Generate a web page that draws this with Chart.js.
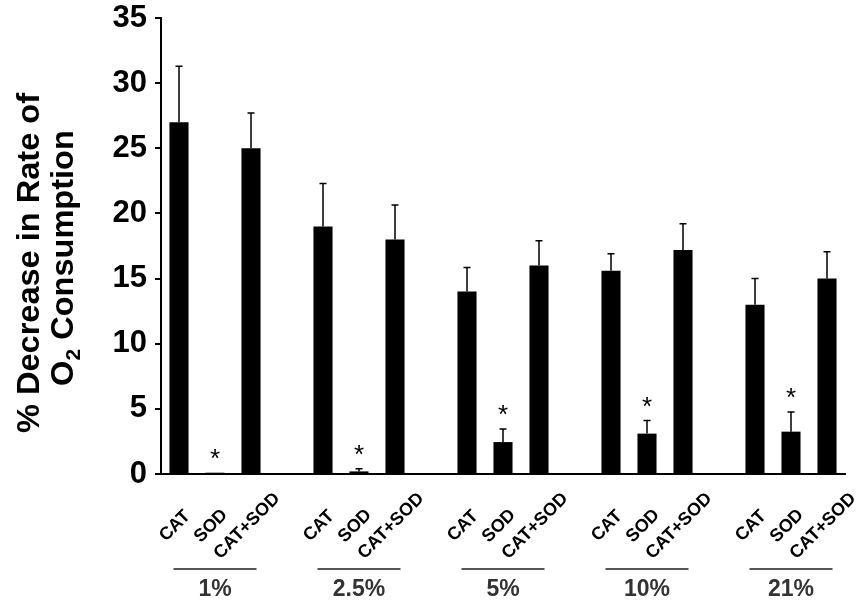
<!DOCTYPE html>
<html>
<head>
<meta charset="utf-8">
<script src="https://cdn.jsdelivr.net/npm/chart.js@4.4.0/dist/chart.umd.min.js"></script>
<style>
  html, body { margin: 0; padding: 0; background: #fff; }
</style>
</head>
<body>
<canvas id="chart" width="865" height="606"></canvas>
<script>
// data
const treatments = ['CAT', 'SOD', 'CAT+SOD'];
const oxygenLevels = ['1%', '2.5%', '5%', '10%', '21%'];
const catMean = [27, 19, 14, 15.6, 13];
const sodMean = [0.1, 0.2, 2.45, 3.1, 3.25];
const catSodMean = [25, 18, 16, 17.2, 15];
const catErr = [4.3, 3.3, 1.85, 1.3, 2.0];
const sodErr = [0, 0.2, 1.0, 1.0, 1.5];
const catSodErr = [2.7, 2.65, 1.9, 2.0, 2.05];
const sodStar = [true, true, true, true, true];
const yTicks = [0, 5, 10, 15, 20, 25, 30, 35];

const FONT = "'Liberation Sans', Arial, Helvetica, sans-serif";

// flatten groups into one category axis, with an empty slot between groups
const labels = [];
const values = [];
const errors = [];
const stars = [];
oxygenLevels.forEach((lvl, g) => {
  const m = [catMean[g], sodMean[g], catSodMean[g]];
  const e = [catErr[g], sodErr[g], catSodErr[g]];
  const s = [false, sodStar[g], false];
  treatments.forEach((t, k) => {
    labels.push(t);
    values.push(m[k]);
    errors.push(e[k]);
    stars.push(s[k]);
  });
  if (g < oxygenLevels.length - 1) {
    labels.push('');
    values.push(null);
    errors.push(null);
    stars.push(false);
  }
});

const errorBars = {
  id: 'errorBars',
  afterDatasetsDraw(chart) {
    const { ctx } = chart;
    const y = chart.scales.y;
    const meta = chart.getDatasetMeta(0);
    ctx.save();
    meta.data.forEach((bar, i) => {
      const v = values[i];
      if (v === null) return;
      const err = errors[i] || 0;
      const top = y.getPixelForValue(v + err);
      if (err > 0) {
        ctx.strokeStyle = '#000';
        ctx.lineWidth = 1.5;
        ctx.beginPath();
        ctx.moveTo(bar.x, bar.y);
        ctx.lineTo(bar.x, top);
        ctx.moveTo(bar.x - 3.5, top);
        ctx.lineTo(bar.x + 3.5, top);
        ctx.stroke();
      }
      if (stars[i]) {
        ctx.fillStyle = '#000';
        ctx.font = '26px ' + FONT;
        ctx.textAlign = 'center';
        ctx.textBaseline = 'middle';
        ctx.fillText('*', bar.x, top - 13);
      }
    });
    ctx.restore();
  }
};

const axisText = {
  id: 'axisText',
  afterDraw(chart) {
    const { ctx } = chart;
    const x = chart.scales.x;
    ctx.save();
    // rotated treatment labels
    ctx.fillStyle = '#000';
    ctx.font = 'bold 18px ' + FONT;
    ctx.textAlign = 'center';
    ctx.textBaseline = 'middle';
    labels.forEach((lab, i) => {
      if (!lab) return;
      const px = x.getPixelForTick(i);
      ctx.save();
      ctx.translate(px - 4, 526);
      ctx.rotate(-Math.PI / 4);
      ctx.fillText(lab, 0, 0);
      ctx.restore();
    });
    // oxygen level group lines + labels
    oxygenLevels.forEach((lvl, g) => {
      const px = x.getPixelForTick(g * 4 + 1);
      ctx.strokeStyle = '#555';
      ctx.lineWidth = 2;
      ctx.beginPath();
      ctx.moveTo(px - 41.5, 569);
      ctx.lineTo(px + 41.5, 569);
      ctx.stroke();
      ctx.fillStyle = '#333';
      ctx.font = 'bold 23px ' + FONT;
      ctx.fillText(lvl, px, 590);
    });
    // y axis title, two lines, with subscript 2
    ctx.fillStyle = '#000';
    ctx.save();
    ctx.translate(30, 263);
    ctx.rotate(-Math.PI / 2);
    ctx.scale(1.05, 1);
    ctx.font = 'bold 31px ' + FONT;
    ctx.textAlign = 'center';
    ctx.textBaseline = 'middle';
    ctx.fillText('% Decrease in Rate of', 0, 0);
    ctx.restore();

    ctx.save();
    ctx.translate(64, 258);
    ctx.rotate(-Math.PI / 2);
    ctx.scale(1.05, 1);
    ctx.textAlign = 'left';
    ctx.textBaseline = 'middle';
    const big = 'bold 31px ' + FONT;
    const small = 'bold 20px ' + FONT;
    ctx.font = big;
    const wO = ctx.measureText('O').width;
    const wRest = ctx.measureText(' Consumption').width;
    ctx.font = small;
    const w2 = ctx.measureText('2').width;
    let cx = -(wO + w2 + wRest) / 2;
    ctx.font = big;
    ctx.fillText('O', cx, 0);
    cx += wO;
    ctx.font = small;
    ctx.fillText('2', cx, 10);
    cx += w2;
    ctx.font = big;
    ctx.fillText(' Consumption', cx, 0);
    ctx.restore();
    ctx.restore();
  }
};

new Chart(document.getElementById('chart'), {
  type: 'bar',
  data: {
    labels: labels,
    datasets: [{
      data: values,
      backgroundColor: '#000',
      borderWidth: 0,
      barPercentage: 0.53,
      categoryPercentage: 1
    }]
  },
  options: {
    responsive: false,
    animation: false,
    layout: { padding: { left: 0, right: 20, top: 0, bottom: 0 } },
    plugins: {
      legend: { display: false },
      tooltip: { enabled: false }
    },
    scales: {
      x: {
        offset: true,
        grid: { display: false },
        border: { display: true, color: '#000', width: 2 },
        ticks: { display: false, autoSkip: false },
        afterFit(scale) { scale.height = 132; }
      },
      y: {
        min: 0,
        max: 35,
        afterBuildTicks(scale) {
          scale.ticks = yTicks.map(v => ({ value: v }));
        },
        grid: { drawOnChartArea: false, drawTicks: true, tickLength: 6, color: '#000', lineWidth: 2 },
        border: { display: true, color: '#000', width: 2 },
        ticks: {
          color: '#000',
          padding: 8,
          font: { family: FONT, size: 31, weight: 'bold' }
        },
        afterFit(scale) {
          scale.width = 161;
          scale.paddingTop = 18;
        }
      }
    }
  },
  plugins: [errorBars, axisText]
});
</script>
</body>
</html>
